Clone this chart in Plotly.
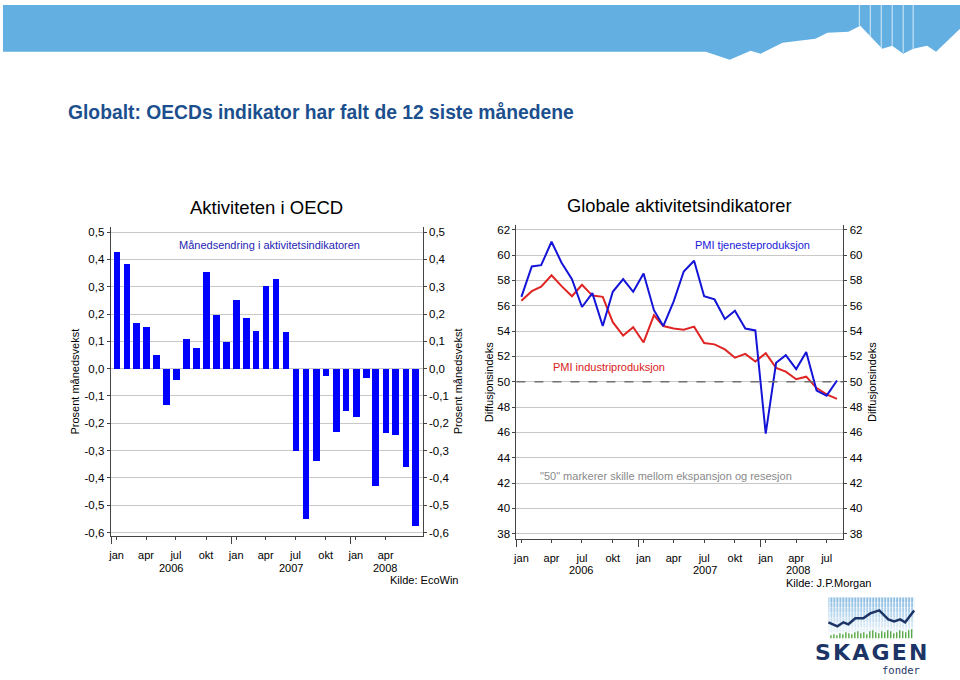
import plotly.graph_objects as go

W, H = 960, 680

# ---------------- data ----------------
# Left: OECD leading indicator, monthly change (%), Jan 2006 - Jul 2008
oecd_months = [f"{y}-{m:02d}-16" for y in (2006, 2007, 2008) for m in range(1, 13)][:31]
oecd_change = [0.43, 0.385, 0.17, 0.155, 0.053, -0.13, -0.04, 0.11, 0.077, 0.355, 0.197, 0.10,
               0.253, 0.185, 0.14, 0.305, 0.33, 0.135, -0.30, -0.55, -0.337, -0.025, -0.232, -0.152,
               -0.177, -0.033, -0.43, -0.235, -0.24, -0.358, -0.575]

# Right: global PMIs, Jan 2006 - Aug 2008
pmi_months = [f"{y}-{m:02d}-16" for y in (2006, 2007, 2008) for m in range(1, 13)][:32]
pmi_services = [56.7, 59.1, 59.2, 61.05, 59.4, 58.1, 55.9, 57.0, 54.4, 57.1, 58.1, 57.1,
                58.55, 55.65, 54.4, 56.35, 58.7, 59.55, 56.75, 56.5, 54.95, 55.6, 54.2, 54.05,
                45.9, 51.5, 52.1, 51.0, 52.35, 49.3, 48.9, 50.1]
pmi_manufacturing = [56.4, 57.15, 57.5, 58.4, 57.55, 56.75, 57.65, 56.8, 56.7, 54.7, 53.65, 54.3,
                     53.1, 55.25, 54.4, 54.2, 54.1, 54.35, 53.05, 52.95, 52.55, 51.9, 52.2, 51.6,
                     52.25, 51.1, 50.8, 50.2, 50.4, 49.5, 49.0, 48.65]

left_yticks = [-0.6, -0.5, -0.4, -0.3, -0.2, -0.1, 0.0, 0.1, 0.2, 0.3, 0.4, 0.5]
left_yticktext = ["-0,6", "-0,5", "-0,4", "-0,3", "-0,2", "-0,1", "0,0", "0,1", "0,2", "0,3", "0,4", "0,5"]
right_yticks = [38, 40, 42, 44, 46, 48, 50, 52, 54, 56, 58, 60, 62]

month_names = ["jan", "apr", "jul", "okt"]
left_xtickvals = ["2006-01-16", "2006-04-16", "2006-07-16", "2006-10-16",
                  "2007-01-16", "2007-04-16", "2007-07-16", "2007-10-16",
                  "2008-01-16", "2008-04-16"]
right_xtickvals = left_xtickvals + ["2008-07-16"]
left_xticktext = (month_names * 3)[:len(left_xtickvals)]
right_xticktext = (month_names * 3)[:len(right_xtickvals)]

years = ["2006", "2007", "2008"]
left_year_pos = ["2006-06-30", "2007-07-01", "2008-04-15"]
right_year_pos = ["2006-07-12", "2007-07-20", "2008-04-22"]

FONT = "Liberation Sans, Arial, sans-serif"
AXC = "#444444"
GRID = "#c8c8c8"


def px(x):
    return x / W


def py(y):
    return 1 - y / H


fig = go.Figure()

fig.add_trace(go.Bar(x=oecd_months, y=oecd_change, marker=dict(color="#0000ff", line=dict(width=0)),
                     width=0.67 * 30.44 * 86400000, xaxis="x", yaxis="y", showlegend=False))
fig.add_trace(go.Scatter(x=oecd_months, y=oecd_change, mode="markers", marker=dict(opacity=0),
                         xaxis="x", yaxis="y2", showlegend=False, hoverinfo="skip"))
fig.add_trace(go.Scatter(x=pmi_months, y=pmi_manufacturing, mode="lines",
                         line=dict(color="#e02424", width=2), xaxis="x2", yaxis="y3", showlegend=False))
fig.add_trace(go.Scatter(x=pmi_months, y=pmi_services, mode="lines",
                         line=dict(color="#1414d8", width=2), xaxis="x2", yaxis="y3", showlegend=False))
fig.add_trace(go.Scatter(x=pmi_months, y=pmi_services, mode="markers", marker=dict(opacity=0),
                         xaxis="x2", yaxis="y4", showlegend=False, hoverinfo="skip"))

L_dom_x = [px(108), px(421)]
L_dom_y = [py(538), py(227)]
R_dom_x = [px(515), px(843)]
R_dom_y = [py(541), py(225)]

xcommon = dict(type="date", showgrid=False, showline=True, linecolor=AXC, linewidth=1,
               ticks="outside", ticklen=3, tickcolor=AXC, tickfont=dict(size=11, color="#000"),
               ticklabelstandoff=6,
               minor=dict(ticks="outside", ticklen=7, tickcolor=AXC, dtick="M12", tick0="2006-01-01",
                          showgrid=False))
ycommon = dict(showline=True, linecolor=AXC, linewidth=1, ticks="outside", ticklen=3, tickcolor=AXC,
               tickfont=dict(size=11.5, color="#000"), zeroline=False)

fig.update_layout(
    width=W, height=H, margin=dict(l=0, r=0, t=0, b=0),
    paper_bgcolor="white", plot_bgcolor="white",
    font=dict(family=FONT, color="#000"),
    separators=",.",
    bargap=0,
    xaxis=dict(domain=L_dom_x, anchor="y", range=["2005-12-29", "2008-08-07"],
               tickvals=left_xtickvals, ticktext=left_xticktext, **xcommon),
    yaxis=dict(domain=L_dom_y, anchor="x", range=[-0.612, 0.52], tickvals=left_yticks,
               ticktext=left_yticktext, showgrid=True, gridcolor=GRID, gridwidth=1, **ycommon),
    yaxis2=dict(overlaying="y", anchor="x", side="right", range=[-0.612, 0.52], tickvals=left_yticks,
                ticktext=left_yticktext, showgrid=False, **ycommon),
    xaxis2=dict(domain=R_dom_x, anchor="y3", range=["2006-01-01", "2008-09-04"],
                tickvals=right_xtickvals, ticktext=right_xticktext, **xcommon),
    yaxis3=dict(domain=R_dom_y, anchor="x2", range=[37.6, 62.4], tickvals=right_yticks,
                showgrid=True, gridcolor=GRID, gridwidth=1, **ycommon),
    yaxis4=dict(overlaying="y3", anchor="x2", side="right", range=[37.6, 62.4], tickvals=right_yticks,
                showgrid=False, **ycommon),
)

shapes = []
# header band
band = [(0, 4), (960, 4), (960, 28), (936, 51), (927, 45), (913, 48), (903, 53), (892, 45), (882, 48),
        (860, 25), (848, 31), (827, 32), (815, 38), (782, 42), (760, 53), (750, 50), (729, 59),
        (705, 51), (0, 51)]
path = "M " + " L ".join(f"{px(a):.5f},{py(b):.5f}" for a, b in band) + " Z"
shapes.append(dict(type="path", xref="paper", yref="paper", path=path, fillcolor="#63afe2",
                   line=dict(width=0), layer="below"))
for xv, yb in [(859, 25), (870, 36), (881, 47), (892, 45), (903, 52), (913, 48)]:
    shapes.append(dict(type="line", xref="paper", yref="paper", x0=px(xv), x1=px(xv), y0=py(4), y1=py(yb),
                       line=dict(color="#d8ecf8", width=1)))

# dashed 50 line
shapes.append(dict(type="line", xref="x2 domain", yref="y3", x0=0, x1=1, y0=50, y1=50,
                   line=dict(color="#707070", width=1.5, dash="dash"), layer="above"))

# logo
bands_c = ["#8dbde2", "#9cc6e6", "#abcfea", "#bad8ee", "#c9e0f2", "#d8e9f6", "#e6f1f9", "#f2f8fc"]
for i, c in enumerate(bands_c):
    shapes.append(dict(type="rect", xref="paper", yref="paper", x0=px(828), x1=px(914),
                       y0=py(600 + 5 * (i + 1)), y1=py(600 + 5 * i), fillcolor=c, line=dict(width=0)))
xs = 829.5
while xs < 914:
    shapes.append(dict(type="line", xref="paper", yref="paper", x0=px(xs), x1=px(xs), y0=py(600), y1=py(640),
                       line=dict(color="white", width=1)))
    xs += 3.0
green_h = [3, 4, 3, 5, 4, 6, 5, 4, 6, 7, 5, 6, 4, 7, 8, 6, 5, 7, 6, 8, 7, 5, 6, 8, 7, 6, 8, 9]
gx = 830.5
for hgt in green_h:
    shapes.append(dict(type="line", xref="paper", yref="paper", x0=px(gx), x1=px(gx), y0=py(641),
                       y1=py(641 - hgt), line=dict(color="#5aa845", width=1.4)))
    gx += 3.0
logo_line = [(828, 625), (837, 629), (843, 625), (848, 627), (855, 621), (863, 621), (870, 616),
             (879, 613), (883, 617), (888, 622), (894, 624), (900, 622), (905, 625), (914, 613)]
lpath = "M " + " L ".join(f"{px(a):.5f},{py(b):.5f}" for a, b in logo_line)
shapes.append(dict(type="path", xref="paper", yref="paper", path=lpath, line=dict(color="#1d3566", width=2.5)))

fig.update_layout(shapes=shapes)

ann = []


def text(x, y, s, size=11, color="#000", xanchor="center", angle=0, bold=False, family=FONT, xref="paper"):
    ann.append(dict(x=(px(x) if xref == "paper" else x), y=py(y), xref=xref, yref="paper", text=s,
                    showarrow=False, xanchor=xanchor, yanchor="middle", textangle=angle,
                    font=dict(size=size, color=color, family=family,
                              weight=("bold" if bold else "normal"))))


text(63, 112, "Globalt: OECDs indikator har falt de 12 siste månedene", size=19.3, color="#1c4f8e",
     xanchor="left", bold=True)
text(264, 208, "Aktiviteten i OECD", size=18.5)
text(679, 206, "Globale aktivitetsindikatorer", size=18.3)
text(267, 245, "Månedsendring i aktivitetsindikatoren", size=11, color="#2424b4")
text(752, 245, "PMI tjenesteproduksjon", size=11, color="#1818d8")
text(608, 368, "PMI industriproduksjon", size=11, color="#d82020")
text(665, 478, "\"50\" markerer skille mellom ekspansjon og resesjon", size=11, color="#8a8a8a")
text(72, 383, "Prosent månedsvekst", angle=-90)
text(456, 383, "Prosent månedsvekst", angle=-90)
text(487, 383, "Diffusjonsindeks", angle=-90)
text(871, 383, "Diffusjonsindeks", angle=-90)
text(458, 582, "Kilde: EcoWin", xanchor="right")
text(873, 585, "Kilde: J.P.Morgan", xanchor="right")
for yr, pos in zip(years, left_year_pos):
    text(pos, 570, yr, xref="x")
for yr, pos in zip(years, right_year_pos):
    text(pos, 572, yr, xref="x2")
text(871, 655, "S\u200aK\u200aA\u200aG\u200aE\u200aN", size=22, color="#1d3566", bold=True,
     family="DejaVu Sans, sans-serif")
text(901, 673, "fonder", size=10.5, color="#1d3566", family="DejaVu Sans Mono, monospace")

fig.update_layout(annotations=ann)

fig.write_html("out.html", config={"displayModeBar": False},
               post_script="document.body.style.margin='0';")
